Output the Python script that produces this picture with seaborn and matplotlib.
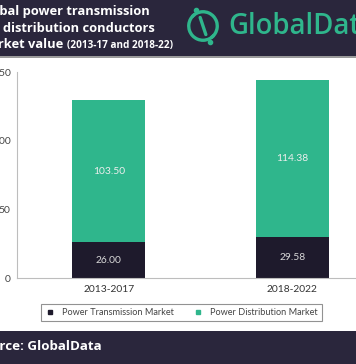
import matplotlib
matplotlib.use('Agg')
import matplotlib.pyplot as plt
import matplotlib.patches as mpatches
from matplotlib.lines import Line2D
import pandas as pd
import seaborn as sns

# data
periods = ['2013-2017', '2018-2022']
transmission = [26.00, 29.58]
distribution = [103.50, 114.38]
series_names = ['Power Transmission Market', 'Power Distribution Market']
yticks = [0, 50, 100, 150]

dark = '#1e1a2c'
green = '#2fb68c'
band = '#2a263c'
head_font = ['Open Sans', 'DejaVu Sans']

df = pd.DataFrame({'period': periods, 'transmission': transmission,
                   'distribution': distribution})
df['total'] = df['transmission'] + df['distribution']

sns.set_style('white')
plt.rcParams['font.family'] = ['Lato', 'DejaVu Sans']

W, H = 356, 364
fig = plt.figure(figsize=(W / 100, H / 100), dpi=100)
fig.patch.set_facecolor('white')

# header and footer bands
fig.patches.append(mpatches.Rectangle((0, 1 - 56 / H), 1, 56 / H, transform=fig.transFigure,
                                      facecolor=band, edgecolor='none', zorder=-1))
fig.patches.append(mpatches.Rectangle((0, 1 - 57.5 / H), 1, 1.5 / H, transform=fig.transFigure,
                                      facecolor='#9a9a9a', edgecolor='none', zorder=-1))
fig.patches.append(mpatches.Rectangle((0, 0), 1, 33 / H, transform=fig.transFigure,
                                      facecolor=band, edgecolor='none', zorder=-1))


def cut_width(s, fs):
    # width of the part of a header text that falls off the left edge
    p = fig.text(0, 0, s, fontsize=fs, fontweight='bold', family=head_font)
    fig.canvas.draw()
    w = p.get_window_extent().width
    p.remove()
    return w


title_fs = 9.3
src_fs = 9.6
tx = -(cut_width('Glo', title_fs) + 1) / W
sx = -(cut_width('Sou', src_fs) + 0.5) / W

fig.text(tx, 1 - 12 / H, 'Global power transmission', color='white', fontsize=title_fs,
         fontweight='bold', va='center', ha='left', family=head_font)
fig.text(tx - 3 / W, 1 - 29 / H, 'and distribution conductors', color='white', fontsize=title_fs,
         fontweight='bold', va='center', ha='left', family=head_font)
t3 = fig.text(tx, 1 - 45 / H, 'Market value', color='white', fontsize=title_fs,
              fontweight='bold', va='center', ha='left', family=head_font)
fig.canvas.draw()
bb = t3.get_window_extent()
fig.text((bb.x1 + 4) / W, 1 - 45.5 / H, '(2013-17 and 2018-22)', color='white', fontsize=7.2,
         fontweight='bold', va='center', ha='left', family=head_font)

# logo
lg = fig.add_axes([184 / W, 1 - 45 / H, 38 / W, 38 / H])
lg.set_xlim(0, 40)
lg.set_ylim(0, 40)
lg.axis('off')
lg.add_patch(mpatches.Arc((20, 20), 30, 30, theta1=125, theta2=320, color=green, lw=2.4))
lg.add_patch(mpatches.Arc((20, 20), 30, 30, theta1=305, theta2=500, color=green, lw=2.4))
lg.plot([17, 23], [29, 11], color=green, lw=2.4, solid_capstyle='round')
lg.plot([13], [37], 'o', color=green, ms=3)
lg.plot([27], [3], 'o', color=green, ms=3)
fig.text(228 / W, 1 - 26 / H, 'GlobalData', color=green, fontsize=19.8, va='center',
         ha='left', fontweight='semibold', family=head_font)

fig.text(sx, 17 / H, 'Source: GlobalData', color='white', fontsize=src_fs,
         fontweight='bold', va='center', ha='left', family=head_font)

# main axes
ax = fig.add_axes([17 / W, (H - 278) / H, 367 / W, 206 / H])
sns.barplot(data=df, x='period', y='total', color=green, width=0.4, ax=ax,
            saturation=1, edgecolor='none')
sns.barplot(data=df, x='period', y='transmission', color=dark, width=0.4, ax=ax,
            saturation=1, edgecolor='none')

for i, (t, d) in enumerate(zip(transmission, distribution)):
    ax.text(i, t / 2, f'{t:.2f}', ha='center', va='center', color='#d8d8d8', fontsize=7.4)
    ax.text(i, t + d / 2, f'{d:.2f}', ha='center', va='center', color='#eeeeee', fontsize=7.4)

ax.set_xlim(-0.5, 1.5)
ax.set_ylim(0, 150)
ax.set_yticks(yticks)
ax.set_xlabel('')
ax.set_ylabel('')
sns.despine(ax=ax)
for s in ['left', 'bottom']:
    ax.spines[s].set_color('#bdbdbd')
    ax.spines[s].set_linewidth(0.8)
ax.tick_params(axis='y', length=3, width=0.8, color='#bdbdbd', labelsize=7.4,
               labelcolor='#444444', pad=1.5)
ax.tick_params(axis='x', length=0, labelsize=7.4, labelcolor='#333333', pad=5)
ax.set_xticks([0.5], minor=True)
ax.tick_params(axis='x', which='minor', length=3, width=0.8, color='#bdbdbd')

handles = [Line2D([], [], marker='s', ls='none', color=dark, ms=3.5),
           Line2D([], [], marker='s', ls='none', color=green, ms=3.5)]
leg = fig.legend(handles, series_names, loc='center', bbox_to_anchor=(181.5 / W, 1 - 312.5 / H),
                 ncol=2, fontsize=6.6, frameon=True, fancybox=False, handlelength=1,
                 handletextpad=0.8, columnspacing=2.2, borderpad=0.45)
leg.get_frame().set_edgecolor('#777777')
leg.get_frame().set_linewidth(0.8)
for t in leg.get_texts():
    t.set_color('#444444')

fig.savefig('out.png', dpi=100)
